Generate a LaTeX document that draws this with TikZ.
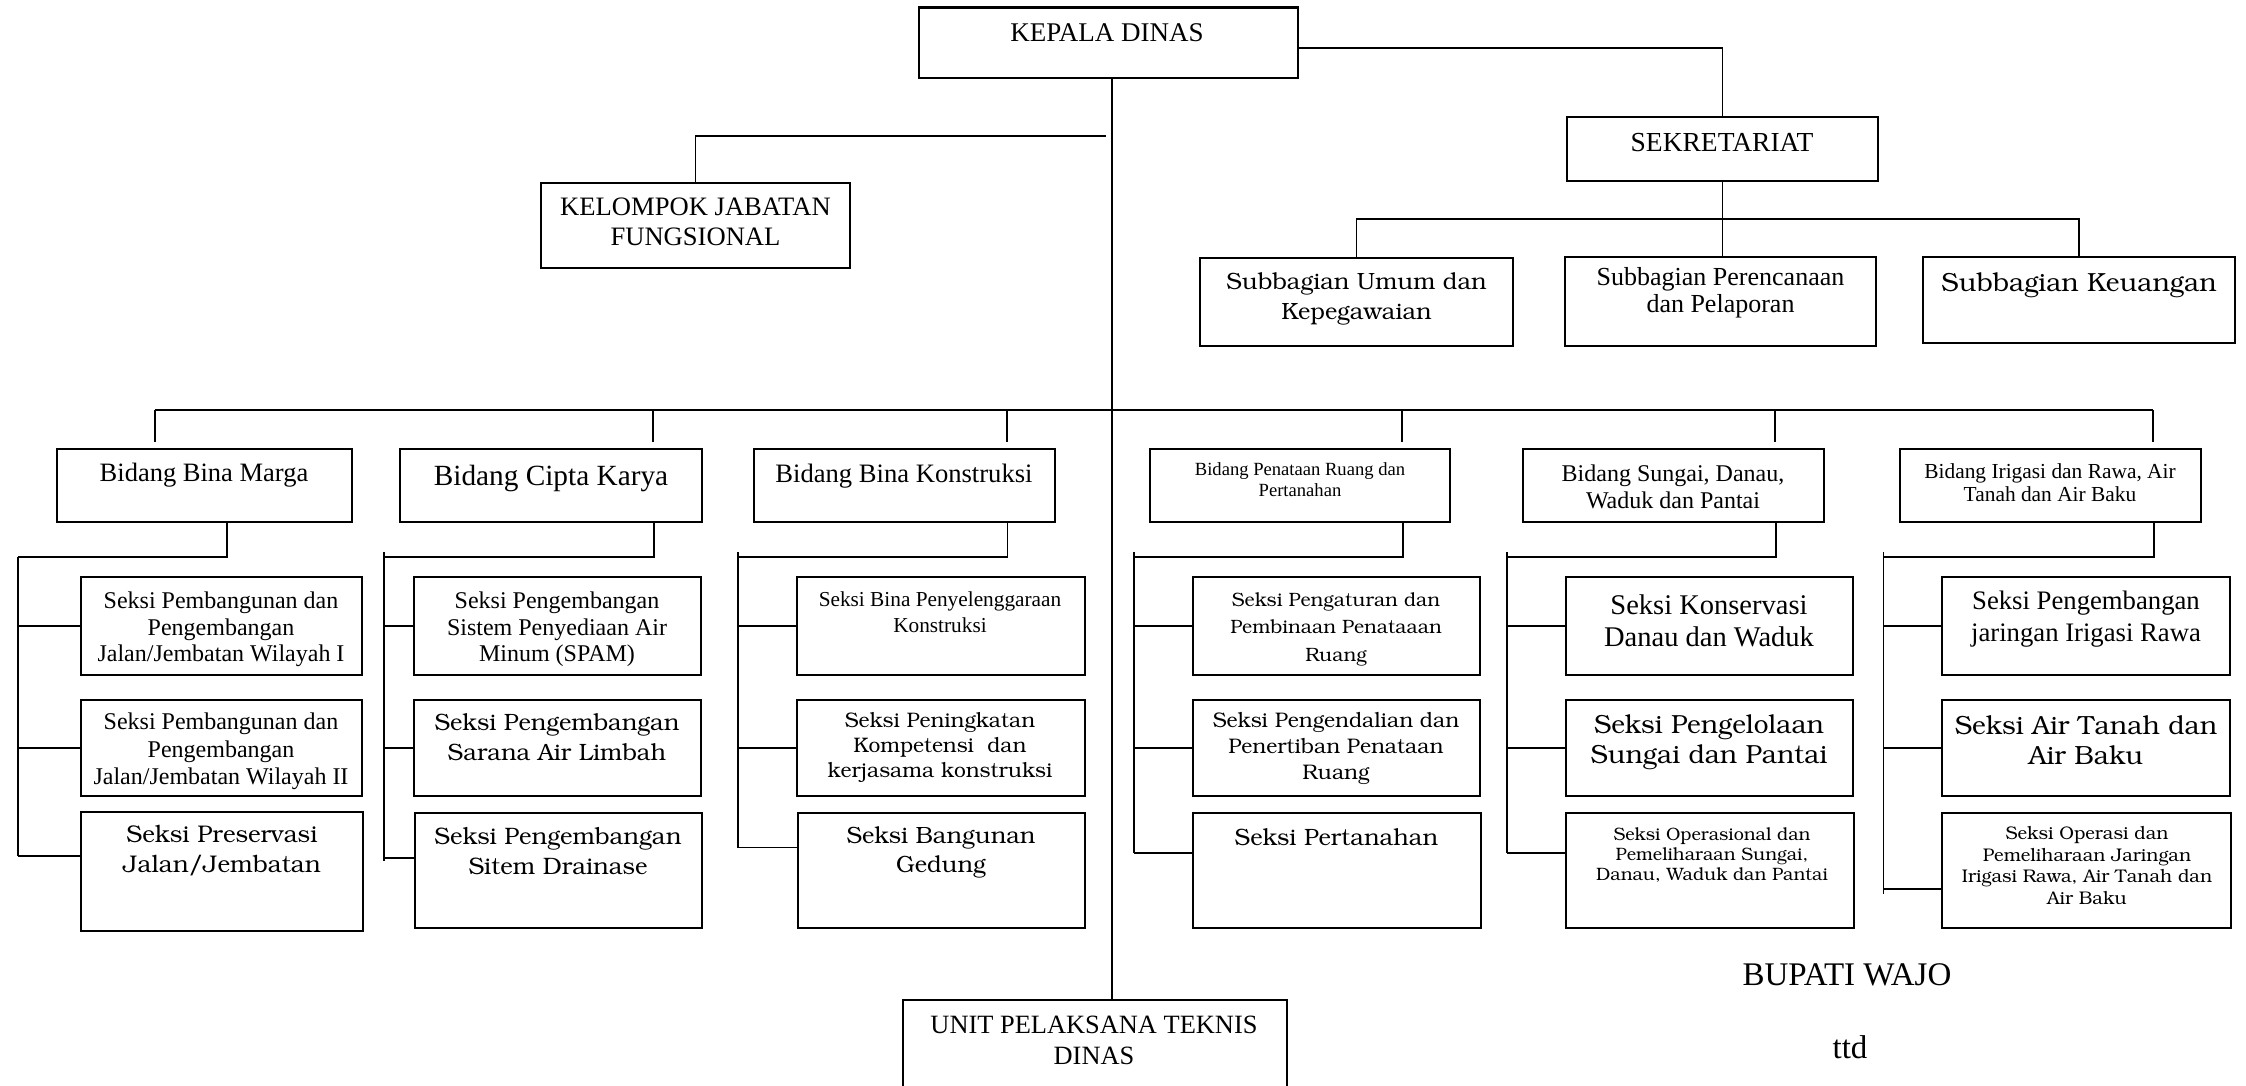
\documentclass[tikz,border=0pt]{standalone}
\usepackage{fontspec}
\setmainfont{Liberation Serif}
\newcommand\bkmfont{\fontencoding{OT1}\fontfamily{pbk}\fontseries{l}\fontshape{n}\selectfont}
\newcommand\obx[6][obox]{\node[#1, minimum width={(#5)-(#3)}, minimum height={(#6)-(#4)}] (#2) at (#3,#4) {};}
\tikzset{
  obox/.style={draw, line width=2.6pt, inner sep=0pt, outer sep=0pt, anchor=north west},
  othin/.style={obox, line width=1.4pt},
  conn/.style={draw, line width=1.8pt},
  ttx/.style 2 args={font=\fontsize{#1}{#2}\selectfont, align=center, inner sep=0pt},
  btx/.style 2 args={font=\bkmfont\fontsize{#1}{#2}\selectfont, align=center, inner sep=0pt},
}
\begin{document}
\begin{tikzpicture}[x=1pt,y=-1pt]
\useasboundingbox[fill=white] (0,0) rectangle (2246,1085);
% boxes
\obx{kd}{919}{7.5}{1298}{78}
\obx[othin]{kjf}{541}{183}{850}{268}
\obx{sek}{1567}{117}{1878}{181}
\obx{su1}{1200}{258}{1513}{346}
\obx{su2}{1565}{257}{1876}{346}
\obx{su3}{1923}{257}{2235}{343}
\obx{b1}{57}{449}{352}{522}
\obx{b2}{400}{449}{702}{522}
\obx{b3}{754}{449}{1055}{522}
\obx{b4}{1150}{449}{1450}{522}
\obx{b5}{1523}{449}{1824}{522}
\obx{b6}{1900}{449}{2201}{522}
\obx{s11}{81}{577}{362}{675}
\obx{s12}{81}{700}{362}{796}
\obx{s13}{81}{812}{363}{931}
\obx{s21}{414}{577}{701}{675}
\obx{s22}{414}{700}{701}{796}
\obx{s23}{415}{813}{702}{928}
\obx{s31}{797}{577}{1085}{675}
\obx{s32}{797}{700}{1085}{796}
\obx{s33}{798}{813}{1085}{928}
\obx{s41}{1193}{577}{1480}{675}
\obx{s42}{1193}{700}{1480}{796}
\obx{s43}{1193}{813}{1481}{928}
\obx{s51}{1566}{577}{1853}{675}
\obx{s52}{1566}{700}{1853}{796}
\obx{s53}{1566}{813}{1854}{928}
\obx{s61}{1942}{577}{2230}{675}
\obx{s62}{1942}{700}{2230}{796}
\obx{s63}{1942}{813}{2231}{928}
\obx[othin]{upt}{903}{1000}{1287}{1095}
% texts
\node[ttx={27}{32}] (t-kd) at (1107,33) {KEPALA DINAS};
\node[ttx={26.6}{30}] (t-kjf) at (695.5,222) {KELOMPOK JABATAN\\FUNGSIONAL};
\node[ttx={27.5}{32}] (t-sek) at (1722,143) {SEKRETARIAT};
\node[btx={23.5}{30}] (t-su1) at (1356.5,299) {Subbagian Umum dan\\Kepegawaian};
\node[ttx={26}{27}] (t-su2) at (1720.5,293) {Subbagian Perencanaan\\dan Pelaporan};
\node[btx={26.2}{30}] (t-su3) at (2079,285) {Subbagian Keuangan};
\node[ttx={26.5}{30}] (t-b1) at (204,475) {Bidang Bina Marga};
\node[ttx={29.3}{32}] (t-b2) at (551,478) {Bidang Cipta Karya};
\node[ttx={26.6}{30}] (t-b3) at (904,476) {Bidang Bina Konstruksi};
\node[ttx={18.6}{21.4}] (t-b4) at (1300,479.5) {Bidang Penataan Ruang dan\\Pertanahan};
\node[ttx={24}{27}] (t-b5) at (1673,486.5) {Bidang Sungai, Danau,\\Waduk dan Pantai};
\node[ttx={21.4}{23.6}] (t-b6) at (2050,482.8) {Bidang Irigasi dan Rawa, Air\\Tanah dan Air Baku};
\node[ttx={24}{26.5}] (t-s11) at (221,629.5) {Seksi Pembangunan dan\\Pengembangan\\Jalan/Jembatan Wilayah I};
\node[ttx={24}{27.5}] (t-s12) at (221,751.5) {Seksi Pembangunan dan\\Pengembangan\\Jalan/Jembatan Wilayah II};
\node[btx={24.1}{30}] (t-s13) at (222,851) {Seksi Preservasi\\Jalan/Jembatan};
\node[ttx={24}{26.5}] (t-s21) at (557,629.5) {Seksi Pengembangan\\Sistem Penyediaan Air\\Minum (SPAM)};
\node[btx={23.6}{30}] (t-s22) at (557,737.5) {Seksi Pengembangan\\Sarana Air Limbah};
\node[btx={23.8}{30}] (t-s23) at (558,851) {Seksi Pengembangan\\Sitem Drainase};
\node[ttx={21.3}{26}] (t-s31) at (940,612) {Seksi Bina Penyelenggaraan\\Konstruksi};
\node[btx={21}{24.6}] (t-s32) at (940,747.5) {Seksi Peningkatan\\Kompetensi\ \ dan\\kerjasama konstruksi};
\node[btx={23.5}{29}] (t-s33) at (941,852) {Seksi Bangunan\\Gedung};
\node[btx={19.3}{27.5}] (t-s41) at (1336,629) {Seksi Pengaturan dan\\Pembinaan Penataaan\\Ruang};
\node[btx={21.1}{26}] (t-s42) at (1336,748) {Seksi Pengendalian dan\\Penertiban Penataan\\Ruang};
\node[btx={23.6}{28}] (t-s43) at (1336.4,837.5) {Seksi Pertanahan};
\node[ttx={28.5}{32}] (t-s51) at (1709,621) {Seksi Konservasi\\Danau dan Waduk};
\node[btx={26.2}{30}] (t-s52) at (1709,742) {Seksi Pengelolaan\\Sungai dan Pantai};
\node[btx={17.9}{20.3}] (t-s53) at (1712,855) {Seksi Operasional dan\\Pemeliharaan Sungai,\\Danau, Waduk dan Pantai};
\node[ttx={26.7}{32}] (t-s61) at (2086,619) {Seksi Pengembangan\\jaringan Irigasi Rawa};
\node[btx={26.3}{30}] (t-s62) at (2086,740) {Seksi Air Tanah dan\\Air Baku};
\node[btx={18.3}{21.7}] (t-s63) at (2087,865.5) {Seksi Operasi dan\\Pemeliharaan Jaringan\\Irigasi Rawa, Air Tanah dan\\Air Baku};
\node[ttx={26.4}{31}] (t-upt) at (1094,1040) {UNIT PELAKSANA TEKNIS\\DINAS};
\node[ttx={33}{34}] (t-bup) at (1847,975) {BUPATI WAJO};
\node[ttx={33}{34}] (t-ttd) at (1850,1047) {ttd};
% connectors
\coordinate (tk) at (1112,0);
\draw[conn] (kd.south -| tk) -- (upt.north -| tk);
\draw[conn] ([yshift=-5pt]kd.east) -| (sek.north);
\coordinate (kj) at (1106,136);
\draw[conn] (kj) -| (kjf.north);
\draw[conn] (sek.south) -- (sek.south |- su2.north);
\coordinate (sb) at (1722,219);
\draw[conn] (su1.north) |- (sb) -| (su3.north);
\foreach \i/\dx in {1/155,2/653,3/1007,4/1402,5/1775,6/2153} {
  \coordinate (d\i) at (\dx,410);
  \coordinate (e\i) at (\dx,442);
}
\draw[conn] (d1) -- (d6);
\foreach \i in {1,...,6} { \draw[conn] (d\i) -- (e\i); }
\foreach \i/\px/\rx/\ry/\rt/\re in {1/227/18/856/557/856, 2/654/384/858/552/861, 3/1007.5/738/847.5/552/847.5, 4/1403/1134/853/552/853, 5/1776/1507/853/552/853, 6/2153.7/1883.5/889/552/893.6} {
  \coordinate (p\i) at (\px,557);
  \coordinate (rt\i) at (\rx,\rt);
  \coordinate (re\i) at (\rx,\re);
  \coordinate (rb\i) at (\rx,\ry);
  \draw[conn] (b\i.south -| p\i) -- (p\i) -- (p\i -| rt\i);
  \draw[conn] (rt\i) -- (re\i);
  \draw[conn] (s\i1.west -| rt\i) -- (s\i1.west);
  \draw[conn] (s\i2.west -| rt\i) -- (s\i2.west);
  \draw[conn] (rb\i) -- (rb\i -| s\i3.west);
}
\end{tikzpicture}
\end{document}
